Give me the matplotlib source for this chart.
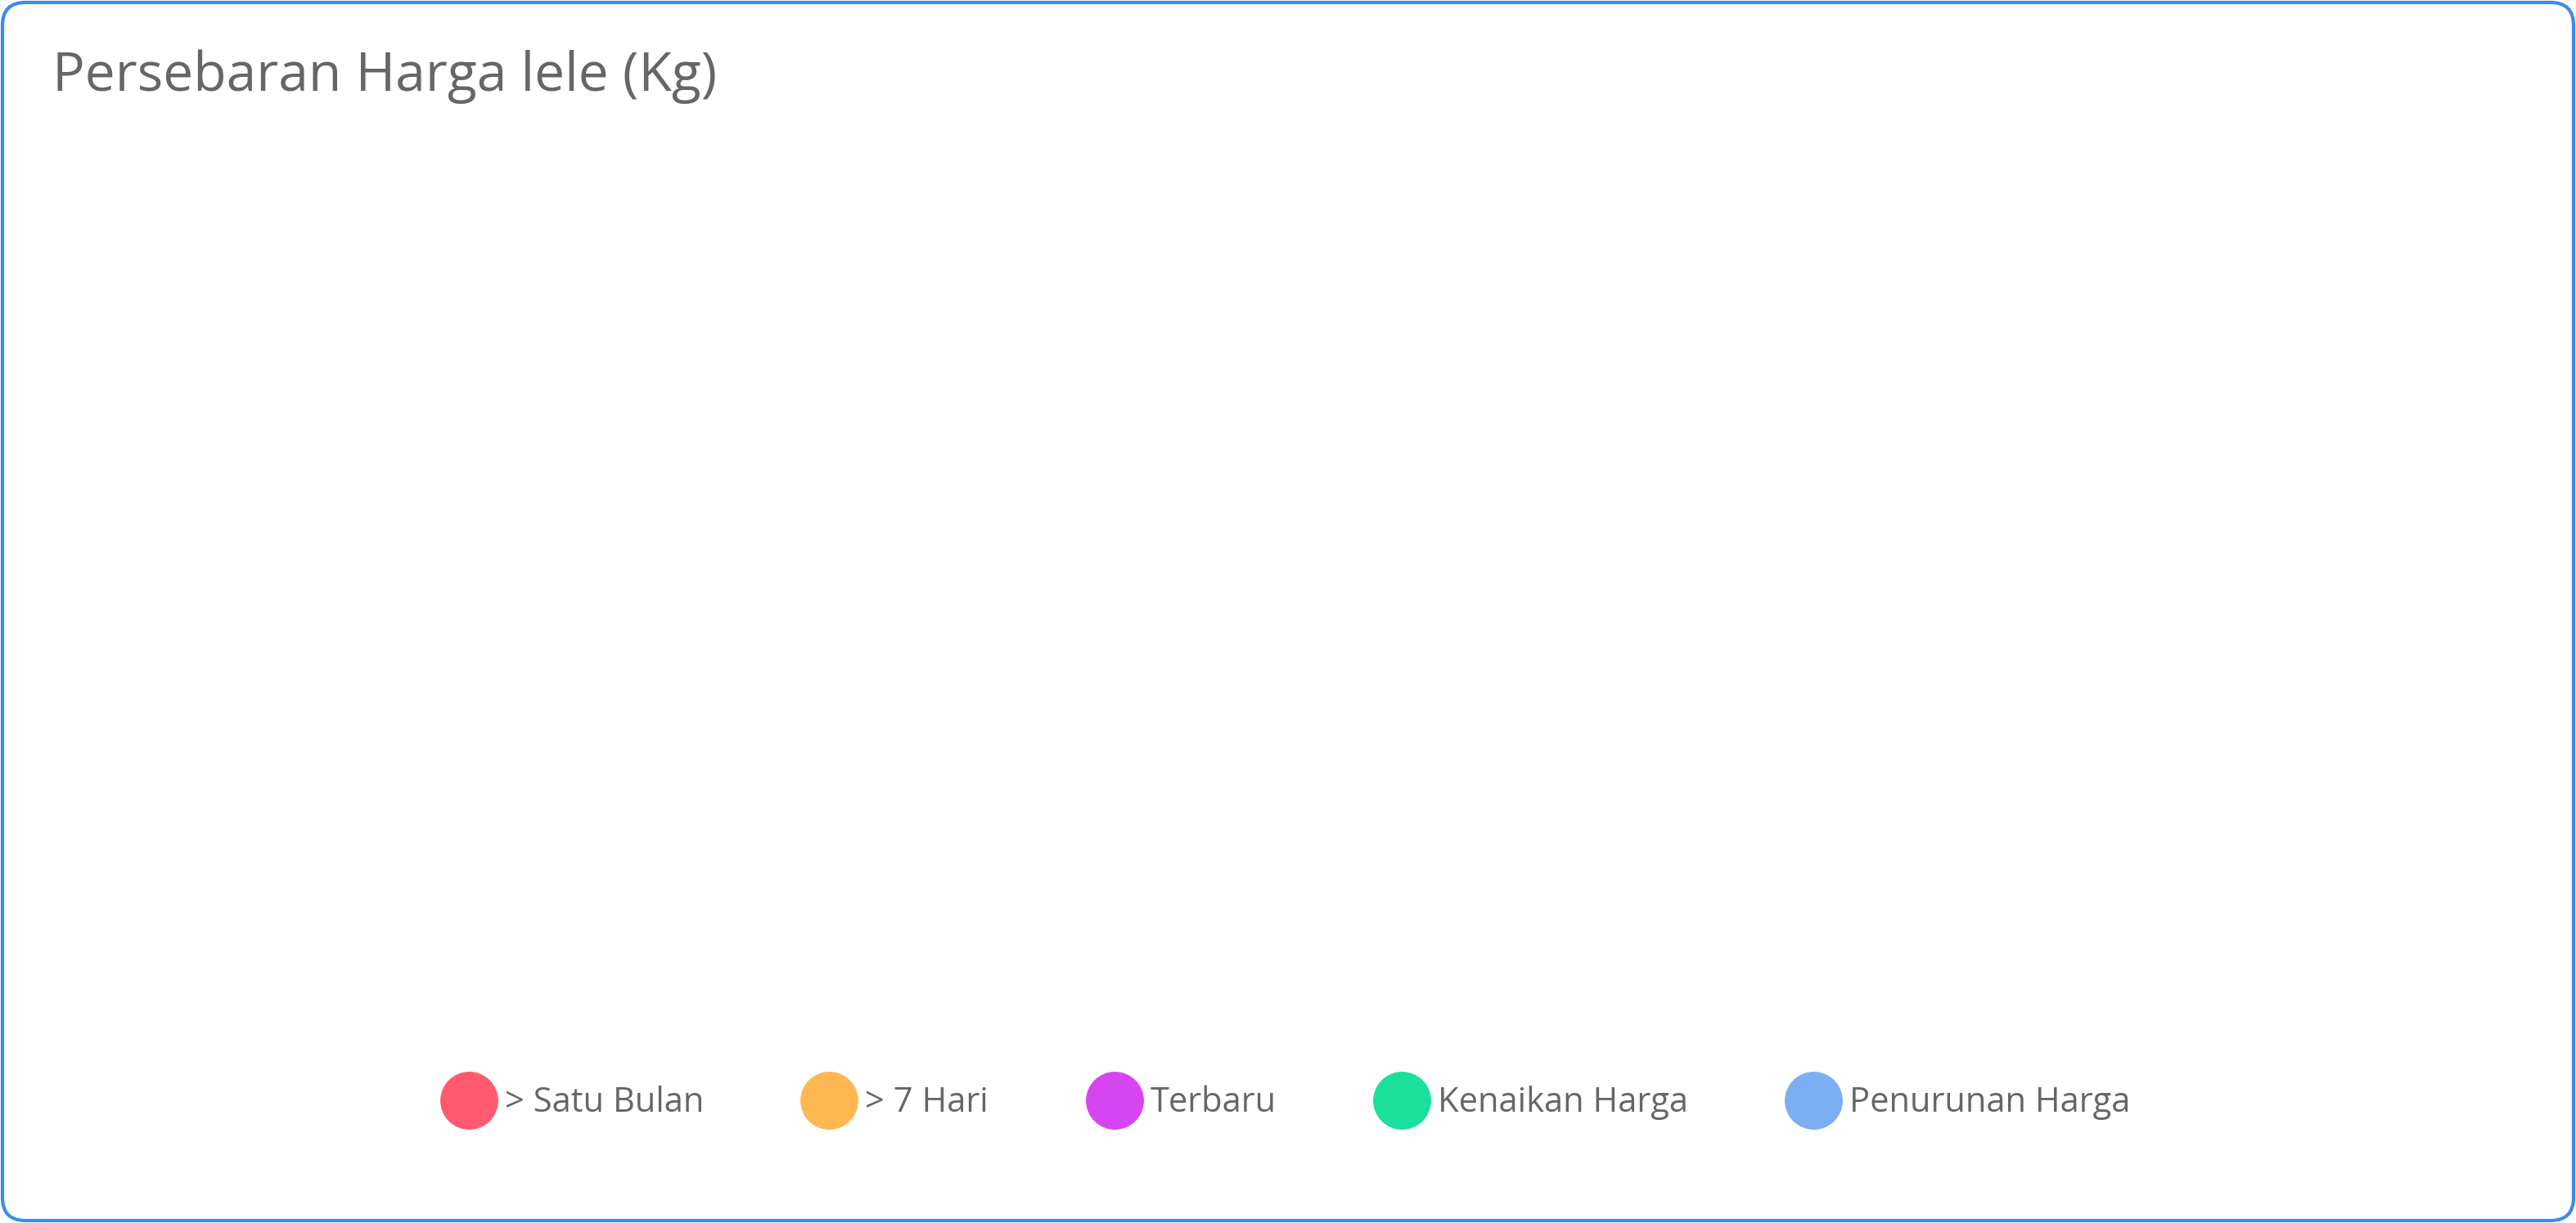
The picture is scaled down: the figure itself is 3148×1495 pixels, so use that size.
import matplotlib
matplotlib.use("Agg")
import matplotlib.pyplot as plt
from matplotlib.lines import Line2D
from matplotlib.patches import FancyBboxPatch
from matplotlib.transforms import IdentityTransform

plt.rcParams['font.family'] = ['Open Sans', 'DejaVu Sans']

# data
title = 'Persebaran Harga lele (Kg)'
series_names = ['> Satu Bulan', '> 7 Hari', 'Terbaru', 'Kenaikan Harga', 'Penurunan Harga']
series_colors = ['#ff5a70', '#ffb851', '#d645f0', '#1be09c', '#7caef3']
# the chart has no plotted points, every series is empty
series_x = [[], [], [], [], []]
series_y = [[], [], [], [], []]

W, H, DPI = 3148, 1495, 100
fig = plt.figure(figsize=(W / DPI, H / DPI), dpi=DPI)

ax = fig.add_axes([0.03, 0.17, 0.94, 0.68])
for xs, ys, name, col in zip(series_x, series_y, series_names, series_colors):
    ax.scatter(xs, ys, color=col, label=name)
ax.axis('off')

# rounded card border
border = FancyBboxPatch((3, 3), W - 6, H - 6,
                        boxstyle="round,pad=0,rounding_size=28",
                        transform=IdentityTransform(),
                        facecolor='none', edgecolor='#3a8bec', linewidth=3)
fig.patches.append(border)

fig.text(0.0203, 0.926, title, fontsize=47.5, color='#666666',
         ha='left', va='baseline')

fs = 30
handles = [Line2D([], [], marker='o', linestyle='none', markersize=50,
                  markerfacecolor=c, markeredgecolor=c) for c in series_colors]
fig.legend(handles, series_names, loc='center', bbox_to_anchor=(0.4984, 0.098),
           ncol=5, frameon=False, fontsize=fs, labelcolor='#666666',
           handlelength=55 / fs, handletextpad=4 / fs, columnspacing=83 / fs)

fig.savefig('out.png', dpi=DPI, facecolor='white')
